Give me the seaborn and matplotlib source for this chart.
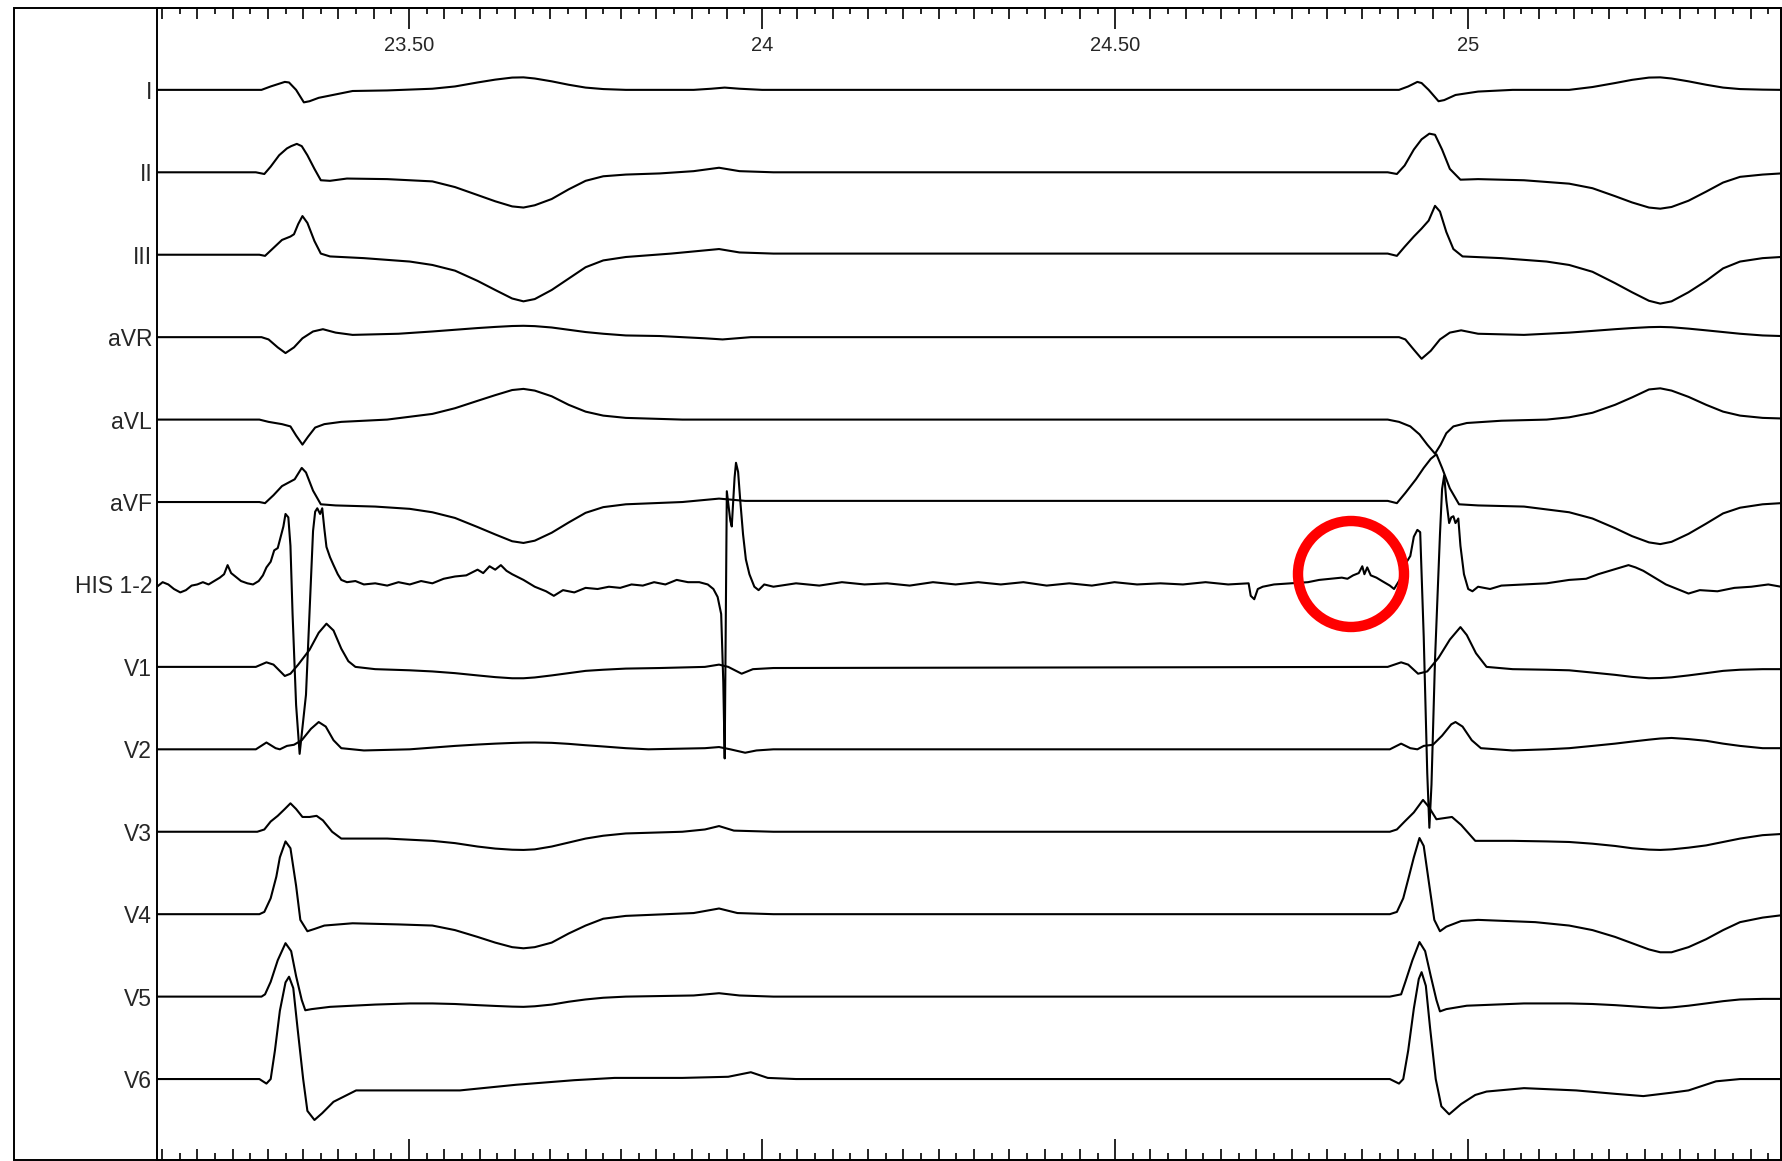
import numpy as np
import pandas as pd
import matplotlib
matplotlib.use("Agg")
import matplotlib.pyplot as plt
import seaborn as sns
from matplotlib.patches import Ellipse, Rectangle
from matplotlib.ticker import FixedLocator, MultipleLocator

# ---------------- data: (time in s, amplitude in display units, + = up) ----------------
leads = ["I", "II", "III", "aVR", "aVL", "aVF", "HIS 1-2", "V1", "V2", "V3", "V4", "V5", "V6"]

I_pts = [(23.143, 0), (23.291, 0), (23.304, 3), (23.324, 7), (23.330, 6.5), (23.340, 0), (23.351, -11),
         (23.359, -10), (23.372, -7), (23.388, -5), (23.420, -1), (23.469, -0.5),
         (23.533, 1), (23.565, 3), (23.597, 6.5), (23.622, 9), (23.646, 10.8), (23.662, 11), (23.678, 10),
         (23.702, 7.5), (23.726, 4.5), (23.750, 2), (23.775, 0.7), (23.807, 0),
         (23.903, 0), (23.928, 1), (23.947, 2), (23.968, 1), (24.000, 0),
         (24.902, 0), (24.915, 3), (24.928, 7), (24.934, 6), (24.944, 0), (24.958, -10), (24.966, -9),
         (24.982, -4.5), (25.014, -1.5), (25.063, 0),
         (25.143, 0), (25.176, 2.5), (25.208, 6), (25.232, 8.8), (25.256, 10.8), (25.272, 11), (25.288, 10),
         (25.312, 7.5), (25.337, 4.5), (25.361, 2), (25.385, 0.7), (25.417, 0.2), (25.443, 0)]

II_pts = [(23.143, 0), (23.283, 0), (23.295, -1.5), (23.304, 5), (23.316, 15), (23.327, 21), (23.333, 23),
          (23.341, 25), (23.348, 23), (23.356, 15), (23.366, 3), (23.375, -7), (23.388, -7.5), (23.412, -5.5),
          (23.469, -6),
          (23.533, -8), (23.565, -13), (23.597, -20), (23.622, -25.5), (23.646, -30), (23.662, -31),
          (23.678, -29), (23.702, -23.5), (23.726, -15), (23.750, -7.5), (23.775, -3.5), (23.807, -2),
          (23.855, -1), (23.903, 1), (23.939, 4), (23.968, 1), (24.016, 0),
          (24.886, 0), (24.899, -1.5), (24.910, 6), (24.923, 20), (24.934, 29), (24.945, 34), (24.953, 33),
          (24.963, 20), (24.974, 3), (24.989, -6.5), (25.014, -6), (25.079, -7),
          (25.143, -10), (25.176, -14), (25.208, -21), (25.232, -26.5), (25.256, -31), (25.272, -32),
          (25.288, -30.5), (25.312, -25), (25.337, -17), (25.361, -9), (25.385, -4), (25.417, -2),
          (25.443, -1)]

III_pts = [(23.143, 0), (23.288, 0), (23.296, -1), (23.308, 6), (23.320, 13), (23.332, 16), (23.337, 18),
           (23.343, 27), (23.349, 34), (23.356, 28), (23.366, 12), (23.375, 1), (23.388, -1.5), (23.436, -3),
           (23.501, -6),
           (23.533, -9), (23.565, -14), (23.597, -23), (23.622, -31), (23.646, -38.5), (23.662, -41),
           (23.678, -39), (23.702, -31), (23.726, -21), (23.750, -11), (23.775, -5), (23.807, -2),
           (23.871, 1), (23.939, 5), (23.968, 2), (24.016, 1),
           (24.886, 1), (24.899, -1), (24.910, 7), (24.923, 16), (24.934, 23), (24.944, 30), (24.953, 43),
           (24.960, 38), (24.969, 20), (24.979, 5), (24.992, -1.5), (25.047, -3), (25.111, -6),
           (25.143, -9), (25.176, -15), (25.208, -25), (25.232, -33), (25.256, -40.5), (25.272, -43),
           (25.288, -41), (25.312, -33), (25.337, -23), (25.361, -12), (25.385, -6), (25.417, -3),
           (25.443, -2)]

aVR_pts = [(23.143, 0), (23.291, 0), (23.301, -2), (23.314, -9), (23.325, -14), (23.337, -9), (23.349, -1),
           (23.364, 5), (23.378, 7), (23.396, 4), (23.420, 2), (23.485, 3),
           (23.533, 5), (23.565, 6.5), (23.597, 8), (23.622, 9), (23.646, 9.8), (23.662, 10), (23.678, 9.7),
           (23.702, 8.5), (23.726, 6.5), (23.750, 4.5), (23.775, 3), (23.807, 1.5),
           (23.855, 1), (23.919, -1), (23.944, -2), (23.984, 0),
           (24.902, 0), (24.911, -2), (24.923, -11), (24.934, -19), (24.947, -12), (24.960, -2), (24.974, 4),
           (24.990, 6), (25.014, 3), (25.079, 2),
           (25.143, 4), (25.176, 5.5), (25.208, 7), (25.232, 8), (25.256, 8.8), (25.272, 9), (25.288, 8.7),
           (25.312, 7.5), (25.337, 6), (25.361, 4.5), (25.385, 3), (25.417, 1.5), (25.443, 1)]

aVL_pts = [(23.143, 0), (23.288, 0), (23.301, -2), (23.320, -4), (23.332, -6), (23.340, -14), (23.349, -22),
           (23.357, -15), (23.367, -7), (23.380, -4), (23.404, -2), (23.469, 0),
           (23.533, 5), (23.565, 10), (23.597, 16.5), (23.622, 21.5), (23.646, 26), (23.662, 27),
           (23.678, 25.5), (23.702, 20.5), (23.726, 13), (23.750, 7), (23.775, 3.5), (23.807, 1.5),
           (23.887, 0),
           (24.886, 0), (24.902, -2), (24.918, -6), (24.931, -13), (24.942, -22), (24.953, -30), (24.961, -22),
           (24.969, -12), (24.979, -6), (24.998, -3), (25.047, -1), (25.111, 0),
           (25.143, 2), (25.176, 6), (25.208, 13), (25.232, 19.5), (25.256, 26.5), (25.272, 27.5),
           (25.288, 25.5), (25.312, 20), (25.337, 13), (25.361, 7), (25.385, 3.5), (25.417, 1.5), (25.443, 1)]

aVF_pts = [(23.143, 0), (23.288, 0), (23.296, -1), (23.308, 6), (23.320, 14), (23.332, 18), (23.338, 20),
           (23.348, 30), (23.354, 26), (23.364, 10), (23.375, -2), (23.396, -3), (23.452, -4), (23.501, -6),
           (23.533, -9), (23.565, -14), (23.597, -22), (23.622, -28.5), (23.646, -34.5), (23.662, -36),
           (23.678, -34), (23.702, -27), (23.726, -18), (23.750, -9.5), (23.775, -4.5), (23.807, -2),
           (23.887, 0), (23.939, 3), (23.976, 1),
           (24.886, 1), (24.899, -1), (24.911, 8), (24.926, 20), (24.937, 30), (24.947, 38), (24.955, 42),
           (24.963, 30), (24.974, 12), (24.987, -2), (25.014, -3), (25.079, -4),
           (25.143, -9), (25.176, -14.5), (25.208, -23), (25.232, -30), (25.256, -35.5), (25.272, -37),
           (25.288, -35), (25.312, -28), (25.337, -19), (25.361, -10), (25.385, -5), (25.417, -2),
           (25.443, -1)]

HIS_t = [23.143, 23.151, 23.159, 23.167, 23.176, 23.184, 23.192, 23.200, 23.208, 23.216, 23.224, 23.232,
         23.238, 23.243, 23.248, 23.254, 23.262, 23.271, 23.279, 23.287, 23.293, 23.298, 23.304, 23.309,
         23.314, 23.319, 23.322, 23.325, 23.329, 23.332, 23.335, 23.340, 23.345, 23.349, 23.354, 23.359,
         23.364, 23.367, 23.370, 23.374, 23.377, 23.380, 23.383, 23.388, 23.393, 23.399, 23.404, 23.412,
         23.424, 23.436, 23.452, 23.469, 23.485, 23.501, 23.517, 23.533, 23.549, 23.565, 23.581, 23.597,
         23.605, 23.614, 23.622, 23.630, 23.638, 23.646, 23.662, 23.678, 23.694, 23.705, 23.718, 23.734,
         23.750, 23.767, 23.783, 23.799, 23.815, 23.831, 23.847, 23.863, 23.879, 23.895, 23.911, 23.923,
         23.931, 23.937, 23.942, 23.945, 23.947, 23.950, 23.955, 23.957, 23.961, 23.963, 23.966, 23.969,
         23.973, 23.977, 23.982, 23.989, 23.995, 24.003, 24.016, 24.048, 24.081, 24.113, 24.145, 24.177,
         24.209, 24.242, 24.274, 24.306, 24.338, 24.370, 24.403, 24.435, 24.467, 24.499, 24.531, 24.564,
         24.596, 24.628, 24.660, 24.689, 24.692, 24.697, 24.702, 24.709, 24.725, 24.749, 24.773, 24.789,
         24.805, 24.821, 24.829, 24.837, 24.845, 24.850, 24.853, 24.857, 24.862, 24.870, 24.878, 24.889,
         24.895, 24.905, 24.911, 24.918, 24.923, 24.928, 24.932, 24.937, 24.942, 24.945, 24.948, 24.953,
         24.960, 24.963, 24.966, 24.969, 24.973, 24.976, 24.979, 24.982, 24.986, 24.989, 24.994, 25.000,
         25.006, 25.014, 25.031, 25.047, 25.079, 25.111, 25.143, 25.167, 25.184, 25.200, 25.216, 25.227,
         25.237, 25.248, 25.264, 25.280, 25.296, 25.312, 25.328, 25.353, 25.377, 25.401, 25.425, 25.443]
HIS_amp = [-2, 2, 0, -4, -7, -5, -1, 0, 2, 0, 3, 6, 9, 17, 10, 7, 3, 1, 0, 3, 8, 15, 20, 30, 32, 44,
           51, 62, 59, 34, -26, -106, -149, -126, -97, -26, 47, 64, 67, 62, 67, 49, 33, 24, 17, 9, 4, 2,
           3, 0, 1, -1, 2, 0, 3, 1, 5, 7, 8, 13, 10, 16, 13, 17, 12, 9, 4, -2, -6, -10, -5, -7, -3, -4,
           -2, -3, 0, -1, 2, 0, 4, 2, 2, 0, -4, -11, -26, -86, -153, 82, 56, 51, 94, 107, 99, 74, 44, 22,
           9, -2, -5, 0, -2, 1, -1, 2, 0, 1, -1, 2, 0, 2, 0, 2, -1, 1, -1, 2, 0, 1, 0, 2, 0, 1, -10, -13,
           -4, -2, 0, 1, 2, 4, 5, 6, 5, 8, 10, 16, 9, 15, 8, 6, 3, -1, -4, 6, 18, 25, 42, 48, 46, -46,
           -166, -214, -176, -66, 44, 84, 96, 74, 54, 59, 60, 54, 58, 34, 9, -4, -6, -2, -4, -1, 0, 1, 4,
           5, 9, 12, 15, 17, 15, 12, 6, 0, -4, -8, -5, -6, -3, -2, 0, -2]

V1_pts = [(23.143, 0), (23.283, 0), (23.298, 4), (23.308, 2), (23.324, -8), (23.332, -6), (23.343, 2),
          (23.359, 15), (23.372, 30), (23.383, 38), (23.393, 32), (23.404, 16), (23.414, 5), (23.424, 0),
          (23.452, -2), (23.501, -3),
          (23.533, -4), (23.565, -5.5), (23.597, -7.5), (23.622, -9), (23.646, -10), (23.662, -10),
          (23.678, -9.3), (23.702, -7.5), (23.726, -5.5), (23.750, -3.5), (23.775, -2.5), (23.807, -1.5),
          (23.855, -1), (23.919, 0), (23.939, 2), (23.952, 0), (23.971, -6), (23.987, -2), (24.016, -1),
          (24.886, 0), (24.905, 4), (24.915, 2), (24.929, -6), (24.942, -4), (24.958, 8), (24.974, 24),
          (24.989, 35), (24.998, 28), (25.011, 12), (25.026, 0), (25.063, -2), (25.111, -2.5),
          (25.143, -3), (25.176, -5), (25.208, -7), (25.232, -8.8), (25.256, -10), (25.272, -9.8),
          (25.288, -9.2), (25.312, -7.5), (25.337, -5.5), (25.361, -3.5), (25.385, -2.5), (25.417, -2),
          (25.443, -2)]

V2_pts = [(23.143, 0), (23.283, 0), (23.298, 6), (23.311, 1), (23.317, 0), (23.327, 3), (23.337, 4),
          (23.348, 8), (23.361, 18), (23.372, 24), (23.382, 20), (23.393, 8), (23.404, 1), (23.436, -1),
          (23.501, 0),
          (23.533, 1.5), (23.565, 3), (23.597, 4.2), (23.622, 5), (23.646, 5.6), (23.662, 5.9), (23.678, 6),
          (23.702, 5.7), (23.726, 4.8), (23.750, 3.6), (23.775, 2.5), (23.807, 1),
          (23.839, 0), (23.919, 1), (23.939, 2), (23.955, 0), (23.976, -3), (23.992, -1), (24.016, 0),
          (24.889, 0), (24.905, 5), (24.918, 1), (24.928, 0), (24.937, 3), (24.950, 4), (24.963, 12),
          (24.976, 22), (24.982, 24), (24.992, 20), (25.005, 8), (25.018, 1), (25.063, -1), (25.111, 0),
          (25.143, 1), (25.176, 3), (25.208, 5), (25.232, 6.8), (25.256, 8.5), (25.272, 9.5), (25.288, 10),
          (25.312, 9), (25.337, 7.5), (25.361, 5), (25.385, 3), (25.417, 1), (25.443, 1)]

V3_pts = [(23.143, 0), (23.285, 0), (23.295, 2), (23.304, 9), (23.314, 14), (23.324, 20), (23.332, 25),
          (23.340, 20), (23.349, 13), (23.359, 13), (23.369, 14), (23.378, 10), (23.391, 0), (23.404, -6),
          (23.469, -6), (23.501, -7),
          (23.533, -8), (23.565, -10), (23.597, -13), (23.622, -14.8), (23.646, -15.8), (23.662, -16),
          (23.678, -15.5), (23.702, -13), (23.726, -9.5), (23.750, -6), (23.775, -3.5), (23.807, -1.5),
          (23.887, 0), (23.919, 2), (23.939, 5), (23.960, 1), (24.016, 0),
          (24.889, 0), (24.899, 2), (24.910, 9), (24.923, 17), (24.936, 28), (24.944, 22), (24.955, 11),
          (24.966, 12), (24.977, 13), (24.990, 6), (25.010, -8), (25.063, -8), (25.111, -8.5),
          (25.143, -9), (25.176, -10.5), (25.208, -12.5), (25.232, -14.5), (25.256, -15.7), (25.272, -16),
          (25.288, -15.5), (25.312, -14), (25.337, -12), (25.361, -9), (25.385, -6), (25.417, -3),
          (25.443, -2)]

V4_pts = [(23.143, 0), (23.288, 0), (23.295, 2), (23.304, 14), (23.312, 33), (23.317, 50), (23.325, 64),
          (23.332, 58), (23.340, 25), (23.346, -5), (23.356, -15), (23.366, -13), (23.380, -10),
          (23.420, -8), (23.485, -9),
          (23.533, -10), (23.565, -14), (23.597, -20), (23.622, -25), (23.646, -29), (23.662, -30),
          (23.678, -29), (23.702, -25), (23.726, -17), (23.750, -10), (23.775, -4), (23.807, -1.5),
          (23.903, 1), (23.939, 5), (23.965, 1), (24.016, 0),
          (24.889, 0), (24.899, 2), (24.908, 14), (24.916, 33), (24.923, 50), (24.931, 67), (24.937, 60),
          (24.945, 25), (24.952, -5), (24.960, -15), (24.969, -11), (24.990, -6), (25.014, -5), (25.095, -7),
          (25.143, -10), (25.176, -14), (25.208, -20), (25.232, -25.5), (25.256, -31), (25.272, -33.5),
          (25.288, -33.5), (25.312, -29), (25.337, -22), (25.361, -14), (25.385, -7), (25.417, -3),
          (25.443, -1)]

V5_pts = [(23.143, 0), (23.291, 0), (23.296, 2), (23.304, 13), (23.314, 32), (23.325, 47), (23.333, 40),
          (23.340, 18), (23.348, -3), (23.353, -12), (23.362, -11), (23.388, -9), (23.452, -7), (23.501, -6),
          (23.533, -6), (23.565, -6.5), (23.597, -7.5), (23.622, -8.2), (23.646, -8.8), (23.662, -9),
          (23.678, -8.5), (23.702, -7), (23.726, -4.5), (23.750, -2.5), (23.775, -1), (23.807, 0),
          (23.903, 1), (23.939, 3), (23.968, 1), (24.016, 0),
          (24.889, 0), (24.905, 2), (24.911, 13), (24.921, 32), (24.931, 48), (24.939, 40), (24.947, 18),
          (24.955, -3), (24.960, -13), (24.969, -11), (24.998, -8), (25.079, -6),
          (25.143, -6), (25.176, -6.5), (25.208, -7.5), (25.232, -8.5), (25.256, -9.5), (25.272, -10),
          (25.288, -9.5), (25.312, -8), (25.337, -6), (25.361, -4), (25.385, -2.5), (25.417, -2),
          (25.443, -2)]

V6_pts = [(23.143, 0), (23.288, 0), (23.298, -4), (23.304, 0), (23.310, 25), (23.317, 60), (23.325, 85),
          (23.330, 90), (23.336, 80), (23.342, 45), (23.350, 0), (23.356, -28), (23.366, -36), (23.377, -30),
          (23.393, -20), (23.409, -15), (23.425, -10), (23.501, -10), (23.572, -10), (23.652, -5),
          (23.734, -1), (23.791, 1), (23.887, 1), (23.952, 2), (23.984, 6), (24.008, 1), (24.048, 0),
          (24.889, 0), (24.902, -4), (24.908, 0), (24.915, 25), (24.923, 62), (24.930, 88), (24.934, 94),
          (24.940, 82), (24.946, 45), (24.954, 0), (24.962, -24), (24.973, -31), (24.990, -22),
          (25.010, -14), (25.026, -11), (25.079, -8), (25.153, -10), (25.208, -13), (25.248, -15),
          (25.288, -12), (25.312, -10), (25.351, -2), (25.385, 0), (25.443, 0)]

lead_points = [I_pts, II_pts, III_pts, aVR_pts, aVL_pts, aVF_pts, list(zip(HIS_t, HIS_amp)),
               V1_pts, V2_pts, V3_pts, V4_pts, V5_pts, V6_pts]

tick_pos = [23.5, 24.0, 24.5, 25.0]
tick_labels = ["23.50", "24", "24.50", "25"]

# ---------------- layout ----------------
FIG_W, FIG_H = 1783, 1161
AX_L, AX_R, AX_T, AX_B = 157, 1781, 8, 1160       # pixel edges of the trace area
BOX_L = 14                                          # outer frame left edge
FIRST, STEP = 79.0, 72.5                            # lead baseline positions (display units)
Y_TOP, Y_BOT = 7.0, 1020.2
X_MIN, X_MAX = 23.143, 25.443

rows = []
for i, (name, pts) in enumerate(zip(leads, lead_points)):
    t, a = zip(*pts)
    base = FIRST + STEP * i
    rows.append(pd.DataFrame({"lead": name, "t": t, "y": base - np.asarray(a, dtype=float)}))
df = pd.concat(rows, ignore_index=True)

sns.set_style("white")
plt.rcParams["font.family"] = ["Liberation Sans", "DejaVu Sans"]

fig = plt.figure(figsize=(FIG_W / 100, FIG_H / 100), dpi=100)
ax = fig.add_axes([AX_L / FIG_W, 1 - AX_B / FIG_H, (AX_R - AX_L) / FIG_W, (AX_B - AX_T) / FIG_H])

sns.lineplot(data=df, x="t", y="y", units="lead", estimator=None, sort=False,
             color="black", linewidth=1.5, ax=ax, legend=False)

ax.set_xlim(X_MIN, X_MAX)
ax.set_ylim(Y_BOT, Y_TOP)
ax.set_xlabel("")
ax.set_ylabel("")

for s in ax.spines.values():
    s.set_visible(True)
    s.set_color("black")
    s.set_linewidth(1.4)

# x ticks: major (labelled, top), minor every 0.05 s
ax.xaxis.set_major_locator(FixedLocator(tick_pos))
ax.set_xticks(tick_pos, labels=tick_labels)
ax.xaxis.set_minor_locator(MultipleLocator(0.05))
ax.tick_params(axis="x", which="both", direction="in", top=True, bottom=True,
               labeltop=True, labelbottom=False, color="black", width=1.2)
ax.tick_params(axis="x", which="major", length=15, pad=-34, labelsize=14.5)
ax.tick_params(axis="x", which="minor", length=8)

small = np.arange(23.175, X_MAX, 0.05)
for loc, ln in (("top", 4), ("bottom", 5)):
    sec = ax.secondary_xaxis(loc)
    sec.set_xticks(small, labels=[""] * len(small))
    sec.tick_params(direction="in", length=ln, width=1.2, color="black")
    sec.spines[loc].set_linewidth(1.4)

# lead names
ax.set_yticks([FIRST + STEP * i for i in range(len(leads))], labels=leads)
ax.tick_params(axis="y", length=0, pad=3.5, labelsize=16.5)

# outer frame
fig.add_artist(Rectangle((BOX_L / FIG_W, 1 - AX_B / FIG_H), (AX_R - BOX_L) / FIG_W,
                         (AX_B - AX_T) / FIG_H, transform=fig.transFigure,
                         fill=False, ec="black", lw=1.4))

# red annotation ring on the HIS channel
px_per_s = (AX_R - AX_L) / (X_MAX - X_MIN)
px_per_u = (AX_B - AX_T) / (Y_BOT - Y_TOP)
R_PX = 53
ax.add_patch(Ellipse((24.834, 504.8), width=2 * R_PX / px_per_s, height=2 * R_PX / px_per_u,
                     fill=False, ec="#FF0000", lw=7.5, zorder=10))

fig.savefig("out.png", dpi=100)
